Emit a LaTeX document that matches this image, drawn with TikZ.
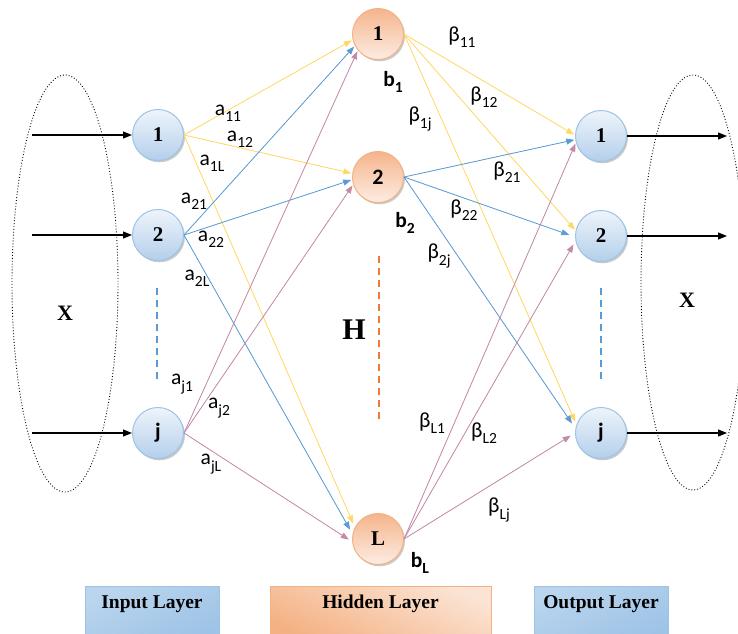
\documentclass[tikz,border=0pt]{standalone}
\usepackage{fontspec}
\setmainfont{Liberation Serif}
\newfontfamily\lblfont{Carlito}
\usetikzlibrary{arrows.meta,shadows}

\definecolor{ylw}{HTML}{FFD966}
\definecolor{blu}{HTML}{5B9BD5}
\definecolor{pnk}{HTML}{C48AA8}
\definecolor{org}{HTML}{ED7D31}
\definecolor{ibord}{HTML}{9DC3E6}
\definecolor{itop}{HTML}{EEF4FB}
\definecolor{ibot}{HTML}{B4CFEB}
\definecolor{hbord}{HTML}{F4B183}
\definecolor{htop}{HTML}{F5B48C}
\definecolor{hbot}{HTML}{FDEDE3}

% weight labels: letter with a lowered index
\newcommand\wlab[2]{{\lblfont\fontsize{21.5}{21.5}\selectfont #1\raisebox{-0.3em}{\fontsize{15.5}{15.5}\selectfont #2}}}
\newcommand\blab[1]{{\lblfont\bfseries\fontsize{21.5}{21.5}\selectfont b\raisebox{-0.3em}{\fontsize{15.5}{15.5}\selectfont #1}}}

\begin{document}
\begin{tikzpicture}[x=1pt,y=-1pt,
  inode/.style={circle, minimum size=51pt, inner sep=0pt, draw=ibord, line width=1pt,
    top color=itop, bottom color=ibot,
    drop shadow={shadow xshift=1.5pt, shadow yshift=-1.8pt, opacity=0.35, fill=black!60},
    font=\bfseries\fontsize{21}{21}\selectfont},
  hnode/.style={inode, draw=hbord, top color=htop, bottom color=hbot},
  sansnum/.style={font=\lblfont\bfseries\fontsize{22}{22}\selectfont},
  wire/.style={line width=0.8pt, -{Triangle[length=8pt,width=6pt]}, shorten >=1pt},
  yw/.style={wire, draw=ylw, fill=ylw},
  bw/.style={wire, draw=blu, fill=blu},
  pw/.style={wire, draw=pnk, fill=pnk},
  feed/.style={line width=1.1pt, -{Triangle[length=9pt,width=7pt]}},
  vdots/.style={line width=1.6pt, dash pattern=on 7pt off 5pt},
  cloud/.style={draw, dotted, line width=0.9pt},
  layerbox/.style={draw, line width=1pt, minimum height=56pt, inner sep=0pt},
  layertext/.style={font=\bfseries\fontsize{19.5}{19.5}\selectfont},
  big/.style={font=\bfseries\fontsize{22}{22}\selectfont}
]
\useasboundingbox (0,0) rectangle (738,633);
\clip (0,0) rectangle (738,633);

% dotted input and output sets
\draw[cloud] (65,283.5) ellipse [x radius=53, y radius=208.5];
\draw[cloud] (693,282.5) ellipse [x radius=52, y radius=207.5];
\node[big] (xin) at (65,313) {X};
\node[big] (xout) at (687,300) {X};

% neurons
\node[inode] (i1) at (158,135) {1};
\node[inode] (i2) at (158,235) {2};
\node[inode, sansnum] (ij) at (158,433) {j};
\node[hnode] (h1) at (378,34) {1};
\node[hnode, sansnum] (h2) at (378,177) {2};
\node[hnode] (hL) at (378,539) {L};
\node[inode] (o1) at (601,136) {1};
\node[inode] (o2) at (601,236) {2};
\node[inode, sansnum] (oj) at (601,433) {j};

% vertical ellipsis marks
\coordinate (di1) at (157,288); \coordinate (di2) at (157,382);
\coordinate (dh1) at (379,256); \coordinate (dh2) at (379,422);
\coordinate (do1) at (601,288); \coordinate (do2) at (601,382);
\draw[vdots, draw=blu] (di1) -- (di2);
\draw[vdots, draw=org] (dh1) -- (dh2);
\draw[vdots, draw=blu] (do1) -- (do2);
\node[font=\bfseries\fontsize{30}{30}\selectfont] (H) at (354,330) {H};

% input feeds and outputs
\coordinate (f1) at (32,135); \coordinate (f2) at (32,235); \coordinate (fj) at (32,433);
\coordinate (g1) at (727,136); \coordinate (g2) at (727,236); \coordinate (gj) at (727,433);
\draw[feed] (f1) -- (i1);
\draw[feed] (f2) -- (i2);
\draw[feed] (fj) -- (ij);
\draw[feed] (o1) -- (g1);
\draw[feed] (o2) -- (g2);
\draw[feed] (oj) -- (gj);

% input -> hidden weights
\draw[yw] (i1.east) -- (h1.193);
\draw[yw] (i1.east) -- (h2.172);
\draw[yw, shorten >=4pt] (i1.east) -- (hL.153);
\draw[bw] (i2.east) -- (h1.207);
\draw[bw] (i2.east) -- (h2.186);
\draw[bw, shorten >=5pt] (i2.east) -- (hL.169);
\draw[pw] (ij.east) -- (h1.219);
\draw[pw] (ij.east) -- (h2.197);
\draw[pw, shorten >=4pt] (ij.east) -- (hL.186);

% hidden -> output weights
\draw[yw] (h1.east) -- (o1.178);
\draw[yw] (h1.east) -- (o2.168);
\draw[yw, shorten >=3pt] (h1.east) -- (oj.161);
\draw[bw] (h2.east) -- (o1.188);
\draw[bw, shorten >=6pt] (h2.east) -- (o2.182);
\draw[bw, shorten >=6pt] (h2.east) -- (oj.170);
\draw[pw] (hL.east) -- (o1.195);
\draw[pw, shorten >=4pt] (hL.east) -- (o2.191);
\draw[pw, shorten >=5pt] (hL.east) -- (oj.180);

% weight labels
\node (a11) at (228,113) {\wlab{a}{11}};
\node (a12) at (240,139) {\wlab{a}{12}};
\node (a1L) at (212,163) {\wlab{a}{1L}};
\node (a21) at (194,201) {\wlab{a}{21}};
\node (a22) at (211,239) {\wlab{a}{22}};
\node (a2L) at (197,278) {\wlab{a}{2L}};
\node (aj1) at (182,384) {\wlab{a}{j1}};
\node (aj2) at (219,408) {\wlab{a}{j2}};
\node (ajL) at (211,464) {\wlab{a}{jL}};

\node (b1) at (393,82) {\blab{1}};
\node (b2) at (405,223) {\blab{2}};
\node (bL) at (420,563) {\blab{L}};

\node (B11) at (462,37) {\wlab{β}{11}};
\node (B12) at (484,97) {\wlab{β}{12}};
\node (B1j) at (420,119) {\wlab{β}{1j}};
\node (B21) at (507,172) {\wlab{β}{21}};
\node (B22) at (464,210) {\wlab{β}{22}};
\node (B2j) at (439,256) {\wlab{β}{2j}};
\node (BL1) at (432,423) {\wlab{β}{L1}};
\node (BL2) at (484,433) {\wlab{β}{L2}};
\node (BLj) at (499,510) {\wlab{β}{Lj}};

% layer captions
\node[layerbox, draw=ibord, minimum width=134pt, shading=axis, top color=ibord!70, middle color=white, bottom color=ibord, shading angle=25] (inbox) at (152,614) {};
\node[layerbox, draw=hbord, minimum width=221pt, shading=axis, top color=hbord!35, middle color=hbord!25, bottom color=hbord, shading angle=-25] (hidbox) at (380.5,614) {};
\node[layerbox, draw=ibord, minimum width=134pt, shading=axis, top color=ibord!70, middle color=white, bottom color=ibord, shading angle=25] (outbox) at (601,614) {};
\node[layertext] (intext) at (152,604) {Input Layer};
\node[layertext] (hidtext) at (380.5,604) {Hidden Layer};
\node[layertext] (outtext) at (601,604) {Output Layer};
\end{tikzpicture}
\end{document}
